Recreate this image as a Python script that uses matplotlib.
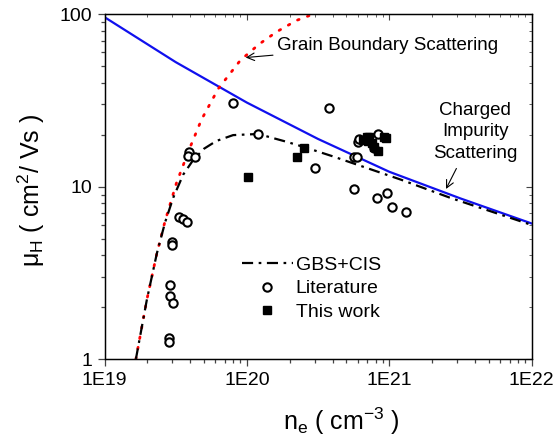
import numpy as np
import matplotlib.pyplot as plt

plt.rcParams['font.family'] = ['Liberation Sans', 'DejaVu Sans']
plt.rcParams['mathtext.fontset'] = 'custom'
plt.rcParams['mathtext.rm'] = 'Liberation Sans'
plt.rcParams['mathtext.it'] = 'Liberation Sans'

# charged impurity scattering (CIS)
cis_n = [1e19, 3.16e19, 1e20, 3.16e20, 1e21, 3.16e21, 1e22]
cis_mu = [96, 52.7, 30.7, 18.9, 12.2, 8.55, 6.12]

# grain boundary scattering (GBS)
gbs_n = [1.66e19, 1.98e19, 2.33e19, 2.66e19, 3.2e19, 3.94e19, 4.8e19,
         6.3e19, 9.0e19, 1.22e20, 1.62e20, 2.24e20, 2.93e20]
gbs_mu = [1.0, 2.2, 4.1, 6.3, 10.5, 16.5, 24.5, 37.0, 54.0, 67.0, 79.0, 92.0, 100.0]

# combined GBS+CIS
tot_n = [1.66e19, 1.98e19, 2.33e19, 2.66e19, 3.04e19, 3.57e19, 4.2e19, 5.0e19,
         6.1e19, 8.0e19, 1.2e20, 1.9e20, 2.56e20, 4.0e20, 1.2e21, 2.7e21, 1e22]
tot_mu = [1.0, 2.2, 4.1, 6.2, 8.65, 11.75, 14.3, 16.6, 18.4, 19.9, 20.2, 18.2,
          16.9, 15.0, 11.0, 8.6, 6.0]

lit_n = [3.94e19, 3.86e19, 4.32e19, 3.35e19, 3.57e19, 3.78e19, 2.98e19, 3.0e19,
         2.88e19, 2.88e19, 3.01e19, 2.83e19, 2.83e19, 7.95e19, 1.19e20, 3.79e20,
         3.0e20, 5.65e20, 5.68e20, 5.93e20, 8.24e20, 9.68e20, 1.04e21, 1.3e21,
         6.0e20, 6.13e20, 8.3e20, 7.77e20]
lit_mu = [15.8, 15.0, 14.9, 6.7, 6.5, 6.25, 4.75, 4.6, 2.7, 2.33, 2.11, 1.32,
          1.26, 30.5, 20.3, 28.6, 12.8, 9.7, 14.8, 14.8, 8.6, 9.2, 7.6, 7.1,
          18.2, 18.8, 20.2, 16.7]

work_n = [1.02e20, 2.52e20, 2.24e20, 6.57e20, 6.94e20, 7.2e20, 7.12e20,
          7.52e20, 7.85e20, 8.29e20, 9.22e20, 9.52e20]
work_mu = [11.4, 16.7, 14.8, 18.7, 19.3, 19.5, 18.5, 17.9, 16.9, 16.0, 19.5, 19.1]

fig = plt.figure(figsize=(5.58, 4.4), dpi=100)
ax = fig.add_axes([0.1873, 0.1834, 0.7656, 0.7846])

ax.plot(cis_n, cis_mu, color='#1010ee', lw=1.6)
ax.plot(gbs_n, gbs_mu, color='red', lw=2.0, linestyle=(0, (0.6, 3.2)),
        dash_capstyle='round')
ax.plot(tot_n, tot_mu, color='black', lw=1.6, linestyle=(0, (5, 2.5, 1.2, 2.5)),
        label='GBS+CIS')
ax.plot(lit_n, lit_mu, 'o', ms=6, mfc='white', mec='black', mew=1.5,
        linestyle='none', label='Literature')
ax.plot(work_n, work_mu, 's', ms=6, color='black', linestyle='none',
        label='This work')

ax.set_xscale('log')
ax.set_yscale('log')
ax.set_xlim(1e19, 1e22)
ax.set_ylim(1, 100)

ax.set_xticks([1e19, 1e20, 1e21, 1e22])
ax.set_xticklabels(['1E19', '1E20', '1E21', '1E22'])
ax.set_yticks([1, 10, 100])
ax.set_yticklabels(['1', '10', '100'])

ax.tick_params(which='both', labelsize=14, width=0.9, color='#444444',
               direction='out')
ax.tick_params(which='major', length=5, pad=4)
ax.tick_params(which='minor', length=3)
for spine in ax.spines.values():
    spine.set_color('#444444')
    spine.set_linewidth(1.0)

# top and right ticks point inward
tx = ax.twiny()
tx.set_xscale('log')
tx.set_xlim(ax.get_xlim())
tx.tick_params(which='both', direction='in', labeltop=False, color='#444444')
tx.tick_params(which='major', length=4)
tx.tick_params(which='minor', length=2.5)
ty = ax.twinx()
ty.set_yscale('log')
ty.set_ylim(ax.get_ylim())
ty.tick_params(which='both', direction='in', labelright=False, color='#444444')
ty.tick_params(which='major', length=4)
ty.tick_params(which='minor', length=2.5)

ax.set_xlabel(r'n$_\mathregular{e}$ ( cm$^\mathregular{-3}$ )', fontsize=18)
ax.xaxis.set_label_coords(0.555, -0.135)
ax.set_ylabel(r'$\mathregular{\mu_H}$ ( cm$^\mathregular{2}$/ Vs )', fontsize=18)
ax.yaxis.set_label_coords(-0.135, 0.49)

ax.legend(loc='center left', bbox_to_anchor=(0.322, 0.205), frameon=False,
          fontsize=14, handlelength=2.6, handletextpad=0.15, labelspacing=0.3,
          borderaxespad=0, borderpad=0)

ax.annotate('Grain Boundary Scattering', xy=(9.8e19, 56), xytext=(1.63e20, 66),
            fontsize=13.5, va='center', ha='left',
            arrowprops=dict(arrowstyle='->', color='black', lw=0.8,
                            shrinkA=1, shrinkB=0))
ax.annotate('Charged\nImpurity\nScattering', xy=(2.5e21, 9.7), xytext=(4.0e21, 20.8),
            fontsize=13.5, va='center', ha='center', linespacing=1.36,
            arrowprops=dict(arrowstyle='->', color='black', lw=0.8,
                            shrinkA=3, shrinkB=0))

fig.savefig('out.png', dpi=100)
